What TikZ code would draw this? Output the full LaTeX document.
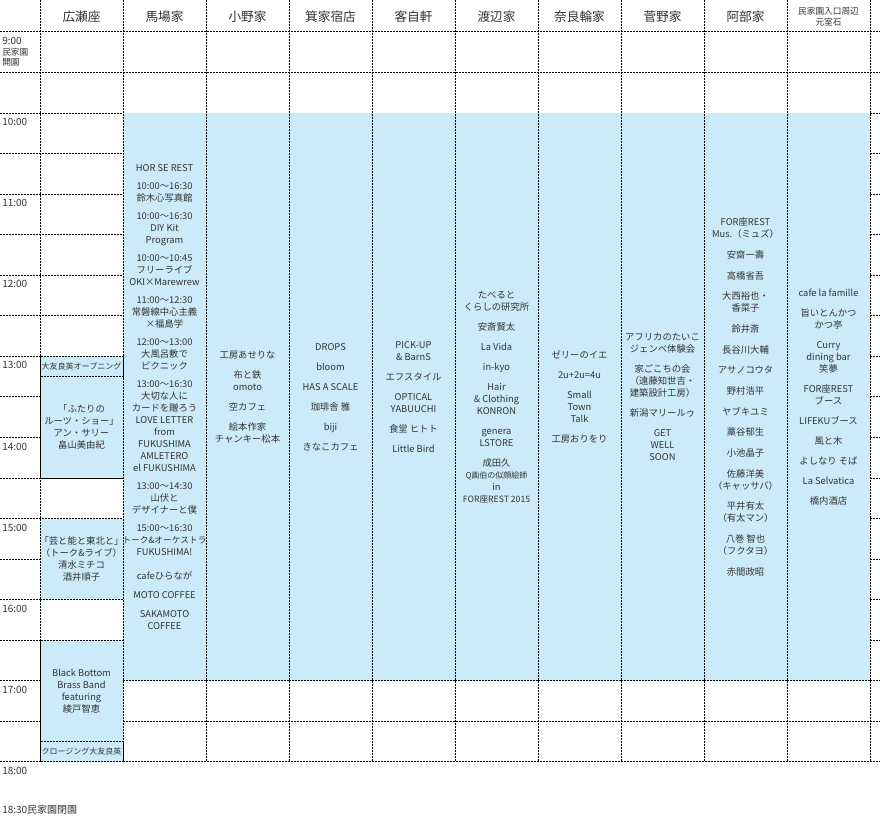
\documentclass[tikz,border=0pt]{standalone}
\usepackage{fontspec}
\setmainfont{Noto Sans CJK JP}
\definecolor{slotblue}{HTML}{CCEBF8}
\definecolor{ink}{HTML}{333333}
\def\rowh{40.55}
\begin{document}
\begin{tikzpicture}[x=0.75pt,y=-0.75pt,
  grid/.style = {dash pattern=on 1.5pt off 0.75pt, line width=0.75pt},
  slot/.style = {fill=slotblue},
  head/.style = {font=\fontsize{9.5}{11}\selectfont, text=ink, align=center, inner sep=0pt},
  cell/.style = {font=\fontsize{7}{9}\selectfont, text=ink, align=center, inner sep=0pt},
  small/.style = {font=\fontsize{6}{7.5}\selectfont, text=ink, align=center, inner sep=0pt},
  time/.style = {font=\fontsize{7.5}{8}\selectfont, text=ink, align=left, inner sep=0pt, anchor=north west}
  ]
  \useasboundingbox (0,0) rectangle (880,816);
  \fill[white] (0,0) rectangle (880,816);
  % row lines
  \foreach \k in {0,...,18}
    \draw[grid] (0,{32+\rowh*\k}) -- (880,{32+\rowh*\k});
  % blue slots
  \foreach \c in {1,...,9}
    \fill[slot] ({40+83*\c},{32+\rowh*2}) rectangle ({123+83*\c},{32+\rowh*16});
  \foreach \a/\b in {8/8.5, 8.5/11, 12/14, 15/17.5, 17.5/18}
    \filldraw[slot, grid] (40,{32+\rowh*\a}) rectangle (123,{32+\rowh*\b});
  \foreach \c in {1,...,9}
    \draw[grid] ({40+83*\c},{32+\rowh*16}) -- ({123+83*\c},{32+\rowh*16});
  % column lines
  \foreach \i in {0,...,10}
    \draw[grid] ({40+83*\i},0) -- ({40+83*\i},{32+\rowh*18});
  % headers
  \foreach \n [count=\i from 0] in {広瀬座,馬場家,小野家,箕家宿店,客自軒,渡辺家,奈良輪家,菅野家,阿部家}
    \node[head] (h\i) at ({81.5+83*\i},17) {\n};
  \node[small, font=\fontsize{6.5}{8}\selectfont] (h9) at (828.5,17) {民家園入口周辺\\元室石};
  % times
  \node[time] (t9) at (2,37) {9:00\\\fontsize{6.5}{7.5}\selectfont 民家園\\\fontsize{6.5}{7.5}\selectfont 開園};
  \foreach \h [count=\k from 1] in {10,...,18}
    \node[time] (t\h) at (2,{32+\rowh*(2*\k)+5}) {\h:00};
  \node[time] (tend) at (2,805) {18:30民家園閉園};
  % 広瀬座
  \node[small] (op) at (81.5,{32+\rowh*8.25}) {大友良英オープニング};
  \node[cell] (roots) at (81.5,{32+\rowh*9.75}) {「ふたりの\\ルーツ・ショー」\\アン・サリー\\畠山美由紀};
  \node[cell] (geino) at (81.5,{32+\rowh*13}) {「芸と能と東北と」\\（トーク\&ライブ）\\清水ミチコ\\酒井順子};
  \node[cell] (bbbb) at (81.5,{32+\rowh*16.25}) {Black Bottom\\Brass Band\\featuring\\綾戸智恵};
  \node[small] (cl) at (81.5,{32+\rowh*17.75}) {クロージング大友良英};
  % houses
  \node[cell] (baba) at (164.5,{32+\rowh*9}) {HOR SE REST\\[4.5pt]10:00～16:30\\鈴木心写真館\\[4.5pt]10:00～16:30\\DIY Kit\\Program\\[4.5pt]10:00～10:45\\フリーライブ\\OKI×Marewrew\\[4.5pt]11:00～12:30\\常磐線中心主義\\×福島学\\[4.5pt]12:00～13:00\\大風呂敷で\\ピクニック\\[4.5pt]13:00～16:30\\大切な人に\\カードを贈ろう\\LOVE LETTER\\from\\FUKUSHIMA\\AMLETERO\\el FUKUSHIMA\\[4.5pt]13:00～14:30\\山伏と\\デザイナーと僕\\[4.5pt]15:00～16:30\\{\fontsize{6.5}{9}\selectfont トーク\&オーケストラ}\\FUKUSHIMA!\\[9pt]cafeひらなが\\[5pt]MOTO COFFEE\\[5pt]SAKAMOTO\\COFFEE};
  \node[cell] (ono) at (247.5,{32+\rowh*9}) {工房あせりな\\[6pt]布と鉄\\omoto\\[6pt]空カフェ\\[6pt]絵本作家\\チャンキー松本};
  \node[cell] (mino) at (330.5,{32+\rowh*9}) {DROPS\\[6pt]bloom\\[6pt]HAS A SCALE\\[6pt]珈琲舎 雅\\[6pt]biji\\[6pt]きなこカフェ};
  \node[cell] (kyaku) at (413.5,{32+\rowh*9}) {PICK-UP\\\&~BarnS\\[6pt]エフスタイル\\[6pt]OPTICAL\\YABUUCHI\\[6pt]食堂 ヒトト\\[6pt]Little Bird};
  \node[cell] (watanabe) at (496.5,{32+\rowh*9}) {たべると\\くらしの研究所\\[6pt]安斎賢太\\[6pt]La Vida\\[6pt]in-kyo\\[6pt]Hair\\\&~Clothing\\KONRON\\[6pt]genera\\LSTORE\\[6pt]成田久\\{\fontsize{6}{9}\selectfont Q画伯の似顔絵師}\\in\\{\fontsize{6.5}{9}\selectfont FOR座REST 2015}};
  \node[cell] (narawa) at (579.5,{32+\rowh*9}) {ゼリーのイエ\\[6pt]2u+2u=4u\\[6pt]Small\\Town\\Talk\\[6pt]工房おりをり};
  \node[cell] (kanno) at (662.5,{32+\rowh*9}) {アフリカのたいこ\\ジェンベ体験会\\[6pt]家ごこちの会\\（遠藤知世吉・\\建築設計工房）\\[6pt]新潟マリールゥ\\[6pt]GET\\WELL\\SOON};
  \node[cell] (abe) at (745.5,{32+\rowh*9}) {FOR座REST\\Mus.（ミュズ）\\[6.5pt]安齋一壽\\[6.5pt]高橋省吾\\[6.5pt]大西裕也・\\香菜子\\[6.5pt]鈴井斎\\[6.5pt]長谷川大輔\\[6.5pt]アサノコウタ\\[6.5pt]野村浩平\\[6.5pt]ヤブキユミ\\[6.5pt]藁谷郁生\\[6.5pt]小池晶子\\[6.5pt]佐藤洋美\\（キャッサバ）\\[6.5pt]平井有太\\（有太マン）\\[6.5pt]八巻 智也\\（フクタヨ）\\[6.5pt]赤間政昭};
  \node[cell] (entry) at (828.5,{32+\rowh*9}) {cafe la famille\\[6pt]旨いとんかつ\\かつ亭\\[6pt]Curry\\dining bar\\笑夢\\[6pt]FOR座REST\\ブース\\[6pt]LIFEKUブース\\[6pt]風と木\\[6pt]よしなり そば\\[6pt]La Selvatica\\[6pt]橋内酒店};
\end{tikzpicture}
\end{document}
